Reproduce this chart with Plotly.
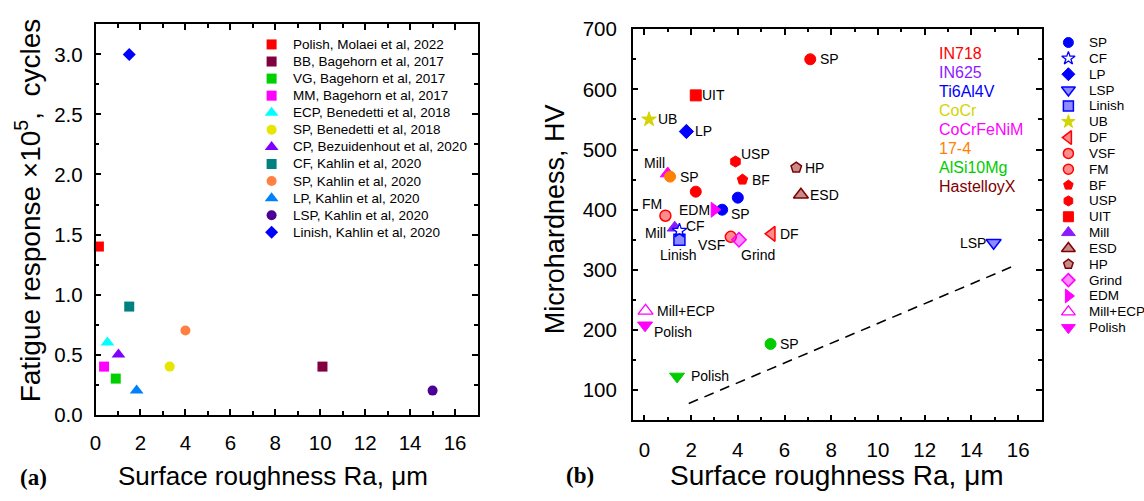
import plotly.graph_objects as go

W, H = 1144, 501
FONT = "Liberation Sans, Arial, sans-serif"

# ---------------- Panel (a) data ----------------
a_names = ["Polish, Molaei et al, 2022", "BB, Bagehorn et al, 2017", "VG, Bagehorn et al, 2017",
           "MM, Bagehorn et al, 2017", "ECP, Benedetti et al, 2018", "SP, Benedetti et al, 2018",
           "CP, Bezuidenhout et al, 2020", "CF, Kahlin et al, 2020", "SP, Kahlin et al, 2020",
           "LP, Kahlin et al, 2020", "LSP, Kahlin et al, 2020", "Linish, Kahlin et al, 2020"]
a_ra = [0.15, 10.1, 0.9, 0.38, 0.53, 3.3, 1.02, 1.5, 4.0, 1.83, 15.0, 1.5]
a_fatigue = [1.4, 0.4, 0.3, 0.4, 0.6, 0.4, 0.5, 0.9, 0.7, 0.2, 0.2, 3.0]
a_colors = ["#FF0000", "#800040", "#00D000", "#FF00FF", "#00FFFF", "#E6E600",
            "#8000FF", "#008080", "#FF8040", "#0080FF", "#4B0096", "#0000FF"]
a_symbols = ["square", "square", "square", "square", "triangle-up", "circle",
             "triangle-up", "square", "circle", "triangle-up", "circle", "diamond"]

# ---------------- Panel (b) data ----------------
materials = ["IN718", "IN625", "Ti6Al4V", "CoCr", "CoCrFeNiM", "17-4", "AlSi10Mg", "HastelloyX"]
material_colors = ["#FF0000", "#8C1AFF", "#0000FF", "#D4D400", "#FF00FF", "#FF8000", "#00CC00", "#800000"]

b_ra = [7.1, 2.2, 0.2, 1.8, 3.9, 6.5, 1.0, 1.1, 4.2, 2.2, 6.7, 4.0, 0.9, 3.0, 3.33,
        1.3, 1.5, 1.5, 3.7, 4.05, 5.45, 14.95, 0.05, 0.03, 5.4, 1.4]
b_hv = [650, 590, 550, 530, 480, 470, 460, 455, 450, 430, 425, 420, 390, 400, 400,
        370, 365, 350, 355, 350, 360, 345, 232, 208, 177, 123]
b_material = ["IN718", "IN718", "CoCr", "Ti6Al4V", "IN718", "HastelloyX", "CoCrFeNiM", "17-4",
              "IN718", "IN718", "HastelloyX", "Ti6Al4V", "IN718", "CoCrFeNiM", "Ti6Al4V",
              "IN625", "Ti6Al4V", "Ti6Al4V", "IN718", "CoCrFeNiM", "IN718", "Ti6Al4V",
              "CoCrFeNiM", "CoCrFeNiM", "AlSi10Mg", "AlSi10Mg"]
b_treatment = ["SP", "UIT", "UB", "LP", "USP", "HP", "Mill", "SP", "BF", "SP", "ESD", "SP",
               "FM", "EDM", "SP", "Mill", "CF", "Linish", "VSF", "Grind", "DF", "LSP",
               "Mill+ECP", "Polish", "SP", "Polish"]
b_label = ["SP", "UIT", "UB", "LP", "USP", "HP", "Mill", "SP", "BF", "", "ESD", "",
           "FM", "EDM", "SP", "Mill", "CF", "Linish", "VSF", "Grind", "DF", "LSP",
           "Mill+ECP", "Polish", "SP", "Polish"]

treatments = ["SP", "CF", "LP", "LSP", "Linish", "UB", "DF", "VSF", "FM", "BF", "USP", "UIT",
              "Mill", "ESD", "HP", "Grind", "EDM", "Mill+ECP", "Polish"]
treatment_legend_colors = ["#0000FF", "#0000FF", "#0000FF", "#0000FF", "#0000FF", "#D4D400",
                           "#FF0000", "#FF0000", "#FF0000", "#FF0000", "#FF0000", "#FF0000",
                           "#8C1AFF", "#800000", "#800000", "#FF00FF", "#FF00FF", "#FF00FF", "#FF00FF"]

trend_ra = [1.9, 15.9]
trend_hv = [78, 308]

# ---------------- styles ----------------
treatment_style = {
    "SP": ("circle", "full"), "CF": ("star", "open"), "LP": ("diamond", "full"),
    "LSP": ("triangle-down", "half"), "Linish": ("square", "half"), "UB": ("star", "full"),
    "DF": ("triangle-left", "half"), "VSF": ("circle", "half"), "FM": ("circle", "half"),
    "BF": ("pentagon", "full"), "USP": ("hexagon", "full"), "UIT": ("square", "full"),
    "Mill": ("triangle-up", "full"), "ESD": ("triangle-up", "half"), "HP": ("pentagon", "half"),
    "Grind": ("diamond", "half"), "EDM": ("triangle-right", "full"),
    "Mill+ECP": ("triangle-up", "open"), "Polish": ("triangle-down", "full"),
}
b_label_place = [("left", 8, 0), ("left", 4, 0), ("left", 7, 0), ("left", 7, 0), ("left", 4, 8),
                 ("left", 7, 0), ("right", -1, 11), ("left", 8, 0), ("left", 8, 0), ("left", 0, 0),
                 ("left", 7, 0), ("left", 0, 0), ("right", -1, 12), ("right", -2, 0), ("left", 7, -4),
                 ("right", -7, -5), ("left", 5, 5), ("center", -1, -15), ("right", -4, -8),
                 ("left", 0, -15), ("left", 6, 0), ("right", -6, 0), ("left", 9, 0), ("left", 7, -7),
                 ("left", 7, 0), ("left", 12, 0)]


def hex_rgba(h, a):
    h = h.lstrip("#")
    return "rgba(%d,%d,%d,%.2f)" % (int(h[0:2], 16), int(h[2:4], 16), int(h[4:6], 16), a)


def msize(sym, base):
    return base + 2 if sym.startswith("triangle") else base


def marker_spec(sym_key, color):
    sym, fill = treatment_style[sym_key]
    if fill == "full":
        return sym, color, color, 1
    if fill == "half":
        return sym, hex_rgba(color, 0.45), color, 1.5
    return sym, "white", color, 1.3


fig = go.Figure()

# panel (a) points
for n, x, y, c, s in zip(a_names, a_ra, a_fatigue, a_colors, a_symbols):
    fig.add_trace(go.Scatter(x=[x], y=[y], mode="markers", name=n, showlegend=False,
                             marker=dict(symbol=s, size=msize(s, 10), color=c, opacity=1,
                                         line=dict(width=0)),
                             xaxis="x", yaxis="y", cliponaxis=False))

# panel (b) trend line
fig.add_trace(go.Scatter(x=trend_ra, y=trend_hv, mode="lines", showlegend=False,
                         line=dict(color="black", width=1.6, dash="10px,7px"),
                         xaxis="x2", yaxis="y2"))

# panel (b) points, one trace per material
for m, mc in zip(materials, material_colors):
    idx = [i for i, mm in enumerate(b_material) if mm == m]
    syms, fills, lines, lws, sizes = [], [], [], [], []
    for i in idx:
        s, f, l, w = marker_spec(b_treatment[i], mc)
        syms.append(s); fills.append(f); lines.append(l); lws.append(w); sizes.append(msize(s, 11))
    fig.add_trace(go.Scatter(x=[b_ra[i] for i in idx], y=[b_hv[i] for i in idx],
                             mode="markers", name=m, showlegend=False,
                             marker=dict(symbol=syms, size=sizes, color=fills, opacity=1,
                                         line=dict(color=lines, width=lws)),
                             xaxis="x2", yaxis="y2", cliponaxis=False))

annotations = []
for i, lab in enumerate(b_label):
    if not lab:
        continue
    xa, xs, ys = b_label_place[i]
    annotations.append(dict(x=b_ra[i], y=b_hv[i], xref="x2", yref="y2", text=lab,
                            showarrow=False, xanchor=xa, yanchor="middle", xshift=xs, yshift=ys,
                            font=dict(family=FONT, size=14, color="black")))

# ---------------- legends drawn on a pixel overlay axis ----------------
LEG_A = dict(x=267, y0=34, dy=17.9)
LEG_B = dict(x=1068, y0=32, dy=16.6)
MAT = dict(x=936, y0=43, dy=20)

fig.add_trace(go.Scatter(x=[LEG_A["x"]] * len(a_names),
                         y=[LEG_A["y0"] + k * LEG_A["dy"] for k in range(len(a_names))],
                         mode="markers", showlegend=False, hoverinfo="skip",
                         marker=dict(symbol=a_symbols, size=[msize(s, 10) for s in a_symbols],
                                     color=a_colors, opacity=1, line=dict(width=0)),
                         xaxis="x3", yaxis="y3", cliponaxis=False))
for k, n in enumerate(a_names):
    annotations.append(dict(x=LEG_A["x"] + 19, y=LEG_A["y0"] + k * LEG_A["dy"], xref="x3", yref="y3",
                            text=n, showarrow=False, xanchor="left", yanchor="middle",
                            font=dict(family=FONT, size=13.5, color="black")))

lsyms, lfills, llines, llw = [], [], [], []
for t, c in zip(treatments, treatment_legend_colors):
    s, f, l, w = marker_spec(t, c)
    lsyms.append(s); lfills.append(f); llines.append(l); llw.append(w)
fig.add_trace(go.Scatter(x=[LEG_B["x"]] * len(treatments),
                         y=[LEG_B["y0"] + k * LEG_B["dy"] for k in range(len(treatments))],
                         mode="markers", showlegend=False, hoverinfo="skip",
                         marker=dict(symbol=lsyms, size=[msize(s, 10) for s in lsyms], color=lfills,
                                     opacity=1, line=dict(color=llines, width=llw)),
                         xaxis="x3", yaxis="y3", cliponaxis=False))
for k, t in enumerate(treatments):
    annotations.append(dict(x=LEG_B["x"] + 19, y=LEG_B["y0"] + k * LEG_B["dy"], xref="x3", yref="y3",
                            text=t, showarrow=False, xanchor="left", yanchor="middle",
                            font=dict(family=FONT, size=13.5, color="black")))

for k, (m, mc) in enumerate(zip(materials, material_colors)):
    annotations.append(dict(x=MAT["x"], y=MAT["y0"] + k * MAT["dy"], xref="x3", yref="y3",
                            text=m, showarrow=False, xanchor="left", yanchor="middle",
                            font=dict(family=FONT, size=16, color=mc)))

annotations += [
    dict(x=268, y=486, xref="x3", yref="y3", text="Surface roughness Ra, μm", showarrow=False,
         xanchor="center", yanchor="middle", font=dict(family=FONT, size=26, color="black")),
    dict(x=835, y=486, xref="x3", yref="y3", text="Surface roughness Ra, μm", showarrow=False,
         xanchor="center", yanchor="middle", font=dict(family=FONT, size=28, color="black")),
    dict(x=23, y=208, xref="x3", yref="y3", text="Fatigue response ×10<sup>5</sup>,  cycles",
         showarrow=False, textangle=-90, xanchor="center", yanchor="middle",
         font=dict(family=FONT, size=28, color="black")),
    dict(x=552, y=217, xref="x3", yref="y3", text="Microhardness, HV", showarrow=False,
         textangle=-90, xanchor="center", yanchor="middle",
         font=dict(family=FONT, size=27, color="black")),
    dict(x=28, y=488, xref="x3", yref="y3", text="<b>(a)</b>", showarrow=False,
         xanchor="center", yanchor="middle",
         font=dict(family="Liberation Serif, Times New Roman, serif", size=23, color="black")),
    dict(x=577, y=486, xref="x3", yref="y3", text="<b>(b)</b>", showarrow=False,
         xanchor="center", yanchor="middle",
         font=dict(family="Liberation Serif, Times New Roman, serif", size=23, color="black")),
]

axis_common = dict(showline=True, linecolor="black", linewidth=1.5, mirror="ticks",
                   ticks="inside", ticklen=6, tickwidth=1.5, tickcolor="black",
                   showgrid=False, zeroline=False,
                   tickfont=dict(family=FONT, size=20.5, color="black"))
minor_common = dict(ticks="inside", ticklen=3.5, tickwidth=1.5, tickcolor="black")

fig.update_layout(
    width=W, height=H, margin=dict(l=0, r=0, t=0, b=0),
    paper_bgcolor="white", plot_bgcolor="rgba(0,0,0,0)",
    showlegend=False, annotations=annotations,
    xaxis=dict(domain=[90 / W, 474 / W], range=[0, 17], anchor="y", tick0=0, dtick=2,
               ticklabelstandoff=9, minor=dict(dtick=1, **minor_common), **axis_common),
    yaxis=dict(domain=[1 - 422 / H, 1 - 13 / H], range=[0, 3.25], anchor="x", tick0=0, dtick=0.5,
               tickformat=".1f", ticklabelstandoff=7,
               minor=dict(dtick=0.25, **minor_common), **axis_common),
    xaxis2=dict(domain=[630 / W, 1041 / W], range=[-0.5, 17], anchor="y2", tick0=0, dtick=2,
                ticklabelstandoff=10, minor=dict(dtick=1, **minor_common), **axis_common),
    yaxis2=dict(domain=[1 - 428 / H, 1 - 18 / H], range=[50, 700], anchor="x2", tick0=0, dtick=100,
                ticklabelstandoff=10, minor=dict(dtick=50, **minor_common), **axis_common),
    xaxis3=dict(domain=[0, 1], range=[0, W], anchor="y3", visible=False, fixedrange=True),
    yaxis3=dict(domain=[0, 1], range=[H, 0], anchor="x3", visible=False, fixedrange=True),
)

fig.write_html("out.html")
